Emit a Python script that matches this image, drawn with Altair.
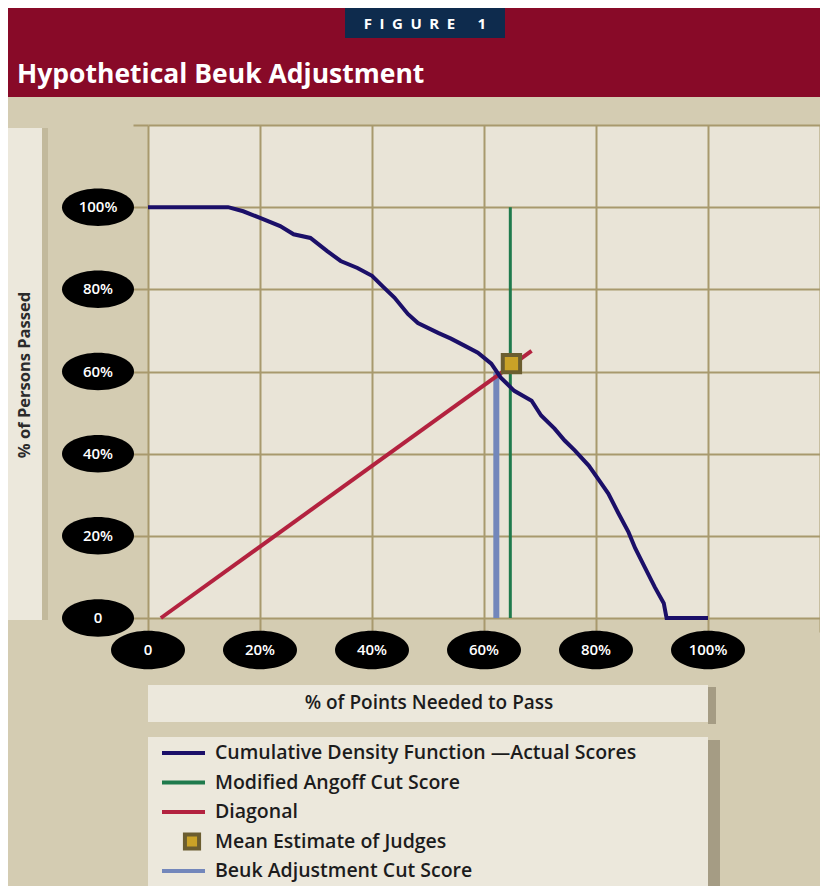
import altair as alt
import pandas as pd

# ---------------- data ----------------
cdf_x = [0, 14.3, 17, 20, 23.6, 26, 29, 32, 34.4, 37.4, 40, 42, 44, 46.4, 48.2,
         51.8, 54.1, 56.5, 58.9, 61.3, 63, 65.4, 68.5, 70.2, 72.6, 74.4, 76.2,
         78.7, 80.5, 82.2, 84, 85.8, 87, 88.7, 90.5, 92.1, 92.6, 100]
cdf_y = [100, 100, 99, 97.4, 95.4, 93.4, 92.5, 89.3, 86.9, 85.2, 83.3, 80.6, 78,
         74, 71.8, 69.4, 68, 66.3, 64.6, 61.9, 58.5, 55.3, 52.9, 49.3, 46.1, 43.2,
         40.8, 37.1, 33.6, 30.3, 25.5, 20.9, 17, 12.4, 7.5, 3.6, 0, 0]
diag_x = [2.3, 68.5]
diag_y = [0, 65]
angoff_cut = 64.7
angoff_range = [0, 100]
beuk_cut = 62.2
beuk_range = [0, 59.8]
judge_x = [64.9]
judge_y = [61.9]

grid_values = [0, 20, 40, 60, 80, 100, 120]
tick_values = [0, 20, 40, 60, 80, 100]
x_tick_labels = ["0", "20%", "40%", "60%", "80%", "100%"]
y_tick_labels = ["0", "20%", "40%", "60%", "80%", "100%"]

legend_labels = ["Cumulative Density Function \u2014Actual Scores",
                 "Modified Angoff Cut Score",
                 "Diagonal",
                 "Mean Estimate of Judges",
                 "Beuk Adjustment Cut Score"]
legend_kinds = ["line", "line", "line", "square", "line"]

# ---------------- styling ----------------
C_BG = "#d4ccb2"
C_PLOT = "#e9e4d7"
C_PANEL = "#ece8dc"
C_GRID = "#a8996d"
C_RED_BAND = "#880a28"
C_NAVY_BOX = "#0e2b4d"
C_CDF = "#1b0f68"
C_GREEN = "#1f7a4c"
C_DIAG = "#b3223f"
C_BEUK = "#7387bb"
C_MARK_FILL = "#caa227"
C_MARK_EDGE = "#6b5d30"
legend_colors = [C_CDF, C_GREEN, C_DIAG, C_MARK_FILL, C_BEUK]

FONT = "Open Sans"
W, H = 672, 493
PAD_L, PAD_T, PAD_R, PAD_B = 140, 117, 0, 268

xs = alt.Scale(domain=[0, 120], nice=False, zero=False)
ys = alt.Scale(domain=[0, 120], nice=False, zero=False)
X_AXIS = alt.Axis(values=grid_values, grid=True, labels=False, ticks=True,
                  tickSize=14, domain=False, title=None)
Y_AXIS = alt.Axis(values=grid_values, grid=True, labels=False, ticks=True,
                  tickSize=15, domain=False, title=None)


def X(field):
    return alt.X(field, type="quantitative", scale=xs, axis=X_AXIS)


def Y(field):
    return alt.Y(field, type="quantitative", scale=ys, axis=Y_AXIS)


one = pd.DataFrame({"a": [0]})


def rect(x1, x2, y1, y2, color):
    return alt.Chart(one).mark_rect(color=color).encode(
        x=alt.value(x1), x2=alt.value(x2), y=alt.value(y1), y2=alt.value(y2))


layers = []

# decorative panels
layers.append(rect(-140, W + PAD_R, -117, -28, C_RED_BAND))
layers.append(rect(197, 357, -117, -87, C_NAVY_BOX))
layers.append(rect(-140, -106, 3, 495, C_PANEL))
layers.append(rect(-106, -100, 3, 495, "#c2b99c"))
layers.append(rect(0, 560, 560, 597, C_PANEL))
layers.append(rect(560, 568, 562, 599, "#a59c84"))
layers.append(rect(0, 560, 612, H + PAD_B, C_PANEL))
layers.append(rect(560, 572, 615, H + PAD_B, "#a59c84"))

# header texts
layers.append(alt.Chart(pd.DataFrame({"t": ["F\u2002I\u2002G\u2002U\u2002R\u2002E\u2003\u20021"]}))
              .mark_text(font=FONT, fontSize=15, fontWeight="bold", color="white",
                         align="center", baseline="middle")
              .encode(x=alt.value(277), y=alt.value(-101), text="t:N"))
layers.append(alt.Chart(pd.DataFrame({"t": ["Hypothetical Beuk Adjustment"]}))
              .mark_text(font=FONT, fontSize=26.5, fontWeight="bold", color="white",
                         align="left", baseline="alphabetic")
              .encode(x=alt.value(-131), y=alt.value(-42), text="t:N"))

# axis titles
layers.append(alt.Chart(pd.DataFrame({"t": ["% of Persons Passed"]}))
              .mark_text(font=FONT, fontSize=16.5, fontWeight="bold", color="#2b2b2b",
                         align="center", baseline="middle", angle=270)
              .encode(x=alt.value(-123), y=alt.value(250), text="t:N"))
layers.append(alt.Chart(pd.DataFrame({"t": ["% of Points Needed to Pass"]}))
              .mark_text(font=FONT, fontSize=19, fontWeight=600, color="#1c1c1c",
                         align="center", baseline="middle")
              .encode(x=alt.value(281), y=alt.value(578), text="t:N"))

# ellipse tick labels
ELLIPSE = "M-1,0 A1,0.52 0 1,1 1,0 A1,0.52 0 1,1 -1,0 Z"
xt = pd.DataFrame({"v": tick_values, "lab": x_tick_labels})
yt = pd.DataFrame({"v": tick_values, "lab": y_tick_labels})
layers.append(alt.Chart(xt).mark_point(shape=ELLIPSE, filled=True, color="black",
                                       size=74 * 74, opacity=1)
              .encode(x=X("v"), y=alt.value(H + 32)))
layers.append(alt.Chart(xt).mark_text(font=FONT, fontSize=15, fontWeight=600,
                                      color="white", baseline="middle")
              .encode(x=X("v"), y=alt.value(H + 32), text="lab:N"))
layers.append(alt.Chart(yt).mark_point(shape=ELLIPSE, filled=True, color="black",
                                       size=72 * 72, opacity=1)
              .encode(x=alt.value(-50), y=Y("v")))
layers.append(alt.Chart(yt).mark_text(font=FONT, fontSize=15, fontWeight=600,
                                      color="white", baseline="middle")
              .encode(x=alt.value(-50), y=Y("v"), text="lab:N"))

# data marks
cdf = pd.DataFrame({"x": cdf_x, "y": cdf_y})
diag = pd.DataFrame({"x": diag_x, "y": diag_y})
ang = pd.DataFrame({"x": [angoff_cut], "y": [angoff_range[0]], "y2": [angoff_range[1]]})
beuk = pd.DataFrame({"x": [beuk_cut], "y": [beuk_range[0]], "y2": [beuk_range[1]]})
judge = pd.DataFrame({"x": judge_x, "y": judge_y})

layers.append(alt.Chart(beuk).mark_rule(color=C_BEUK, strokeWidth=6)
              .encode(x=X("x"), y=Y("y"), y2="y2"))
layers.append(alt.Chart(ang).mark_rule(color=C_GREEN, strokeWidth=3)
              .encode(x=X("x"), y=Y("y"), y2="y2"))
layers.append(alt.Chart(diag).mark_line(color=C_DIAG, strokeWidth=4)
              .encode(x=X("x"), y=Y("y")))
layers.append(alt.Chart(cdf).mark_line(color=C_CDF, strokeWidth=4)
              .encode(x=X("x"), y=Y("y")))
layers.append(alt.Chart(judge).mark_square(size=300, fill=C_MARK_FILL, stroke=C_MARK_EDGE,
                                           strokeWidth=4, opacity=1)
              .encode(x=X("x"), y=Y("y")))

# legend
for i, (lab, kind, col) in enumerate(zip(legend_labels, legend_kinds, legend_colors)):
    yy = 628 + i * 29.5
    d = pd.DataFrame({"lab": [lab]})
    if kind == "line":
        layers.append(alt.Chart(d).mark_rule(color=col, strokeWidth=4)
                      .encode(x=alt.value(14), x2=alt.value(57), y=alt.value(yy)))
    else:
        layers.append(alt.Chart(d).mark_square(size=200, fill=col, stroke=C_MARK_EDGE,
                                               strokeWidth=4, opacity=1)
                      .encode(x=alt.value(44), y=alt.value(yy)))
    layers.append(alt.Chart(d).mark_text(font=FONT, fontSize=19.5, fontWeight=600,
                                         color="#1c1c1c", align="left", baseline="middle")
                  .encode(x=alt.value(67), y=alt.value(yy), text="lab:N"))

chart = alt.layer(*layers).properties(
    width=W, height=H,
    autosize=alt.AutoSizeParams(type="none"),
    padding={"left": PAD_L, "top": PAD_T, "right": PAD_R, "bottom": PAD_B},
).configure(background=C_BG).configure_view(
    fill=C_PLOT, strokeWidth=0
).configure_axis(
    gridColor=C_GRID, gridWidth=2, gridOpacity=1, tickColor=C_GRID, tickWidth=2
)

chart.save("out.html", embed_options={"renderer": "svg", "actions": False})
